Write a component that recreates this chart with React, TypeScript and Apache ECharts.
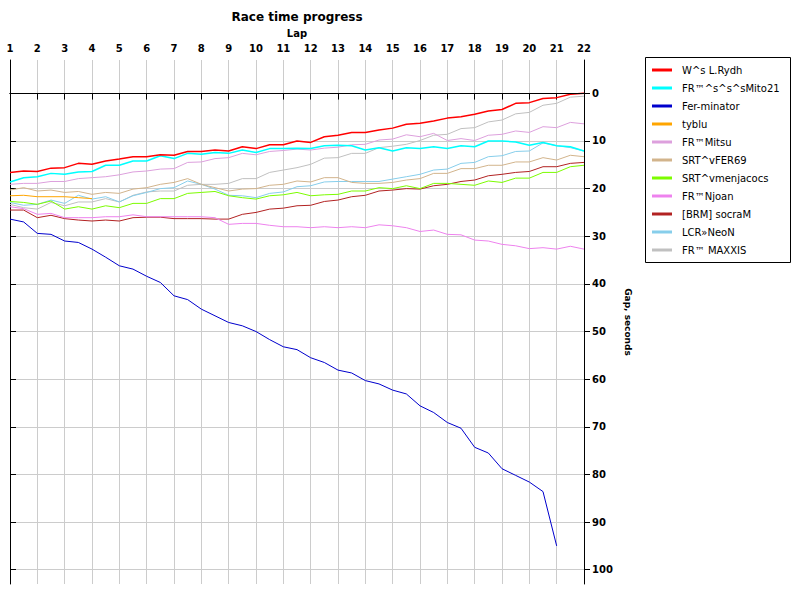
import React, { useEffect, useRef } from "react";
import * as echarts from "echarts";

// Gap to leader in seconds, sampled every half lap starting at lap 1
const NAMES = [
  "W^s L.Rydh",
  "FR™^s^s^sMito21",
  "Fer-minator",
  "tyblu",
  "FR™Mitsu",
  "SRT^vFER69",
  "SRT^vmenjacocs",
  "FR™Njoan",
  "[BRM] socraM",
  "LCR»NeoN",
  "FR™ MAXXIS",
];
const COLORS = ["#ff0000", "#00ffff", "#0000cd", "#ffa500", "#dda0dd", "#d2b48c", "#7cfc00", "#ee82ee", "#b22222", "#87ceeb", "#c0c0c0"];
const WIDTHS = [1.5, 1.5, 1, 1, 1, 1, 1, 1, 1, 1, 1];

const rydh = [16.6, 16.3, 16.4, 15.7, 15.6, 14.7, 14.9, 14.2, 13.8, 13.3, 13.3, 12.9, 13.0, 12.2, 12.2, 11.9, 12.1, 11.2, 11.6, 10.8, 10.8, 10.0, 10.3, 9.1, 8.8, 8.2, 8.2, 7.7, 7.3, 6.5, 6.3, 5.8, 5.2, 4.9, 4.4, 3.7, 3.4, 2.1, 1.95, 1.1, 0.9, 0.2, 0];
const mito = [18.6, 17.7, 17.5, 16.8, 17.0, 16.5, 16.4, 15.1, 15.1, 14.2, 14.2, 13.1, 13.7, 12.6, 12.8, 12.4, 12.6, 11.9, 12.4, 11.6, 11.6, 11.5, 11.6, 11.0, 10.9, 11.0, 11.9, 11.4, 12.1, 11.4, 11.6, 11.2, 11.6, 11.0, 11.2, 10.0, 10.0, 10.2, 10.9, 10.3, 11.0, 11.2, 12.1];
const ferminator = [26.4, 27.0, 29.4, 29.6, 31.0, 31.3, 32.7, 34.4, 36.2, 36.9, 38.4, 39.7, 42.5, 43.3, 45.3, 46.7, 48.1, 48.8, 50.0, 51.7, 53.2, 53.8, 55.5, 56.5, 58.1, 58.7, 60.3, 61.0, 62.3, 63.1, 65.6, 67.0, 69.1, 70.3, 74.3, 75.5, 78.8, 80.2, 81.6, 83.6, 95.0];
const tyblu = [21.5, 21.4, 21.7, 21.7, 21.7, 21.9, 22.1];
const mitsu = [19.1, 18.9, 18.9, 18.5, 18.5, 17.9, 17.7, 17.5, 17.1, 16.5, 16.3, 15.9, 15.8, 14.5, 14.4, 13.7, 13.5, 12.6, 12.9, 12.2, 12.0, 11.7, 11.9, 11.5, 11.3, 10.8, 10.7, 9.8, 9.6, 8.7, 9.1, 8.4, 9.9, 9.5, 9.9, 8.8, 8.6, 7.9, 8.2, 7.0, 7.2, 6.1, 6.4];
const fer69 = [20.3, 19.8, 20.5, 20.3, 20.8, 20.6, 21.2, 20.8, 21.0, 20.1, 19.8, 19.1, 18.7, 17.9, 19.1, 19.8, 20.5, 20.1, 20.0, 19.3, 19.1, 18.4, 18.6, 17.7, 17.7, 18.7, 18.9, 18.9, 18.7, 18.2, 17.9, 16.8, 16.8, 15.8, 15.8, 15.1, 15.1, 14.4, 14.4, 13.5, 14.0, 13.0, 13.3];
const menjacocs = [22.7, 22.9, 23.3, 22.6, 24.3, 23.8, 24.3, 23.6, 24.0, 23.1, 23.1, 22.1, 22.1, 21.0, 20.8, 20.6, 21.5, 21.9, 22.2, 21.5, 21.3, 20.8, 21.5, 21.3, 21.2, 20.5, 20.5, 19.8, 20.0, 19.4, 20.0, 18.9, 18.9, 19.1, 19.3, 18.4, 18.7, 17.8, 17.8, 16.6, 16.6, 15.4, 15.1];
const njoan = [23.8, 24.2, 25.4, 25.2, 26.1, 26.1, 26.1, 25.9, 25.9, 25.5, 25.9, 25.9, 25.9, 25.9, 25.9, 26.1, 27.5, 27.3, 27.3, 27.7, 28.0, 28.0, 28.2, 28.0, 28.2, 28.0, 28.2, 27.6, 27.8, 28.2, 29.0, 28.7, 29.6, 29.7, 30.8, 31.0, 31.7, 32.0, 32.6, 32.4, 32.7, 32.1, 32.7];
const socram = [24.5, 24.5, 26.1, 25.6, 26.3, 26.6, 26.8, 26.6, 26.8, 26.1, 26.0, 26.0, 26.3, 26.3, 26.3, 26.4, 26.4, 25.4, 25.0, 24.3, 24.1, 23.6, 23.5, 22.7, 22.4, 21.7, 21.4, 20.5, 20.3, 20.0, 20.1, 19.4, 19.1, 18.5, 18.2, 17.3, 17.0, 16.6, 16.4, 15.4, 15.4, 14.7, 14.5];
const neon = [22.9, 23.5, 23.3, 22.4, 23.1, 21.4, 22.2, 21.7, 22.8, 21.5, 20.8, 20.0, 19.8, 18.4, 19.1, 20.1, 21.4, 21.5, 21.9, 21.0, 20.7, 19.6, 19.4, 18.6, 18.5, 18.5, 18.5, 18.5, 18.0, 17.5, 17.0, 16.1, 15.9, 14.7, 14.5, 13.3, 13.1, 12.2, 12.1, 10.4, 11.0, 11.4, 12.1];
const maxxis = [23.3, 24.0, 24.3, 22.9, 23.6, 22.8, 22.8, 22.1, 22.8, 21.4, 20.7, 20.5, 20.5, 19.3, 19.1, 19.1, 18.9, 17.9, 17.9, 16.6, 16.1, 15.6, 14.9, 13.6, 13.5, 12.6, 12.6, 11.4, 11.1, 10.7, 9.9, 8.8, 8.6, 7.4, 7.2, 6.0, 5.6, 4.3, 4.0, 2.5, 2.1, 0.8, 0.6];

const SERIES_VALUES = [rydh, mito, ferminator, tyblu, mitsu, fer69, menjacocs, njoan, socram, neon, maxxis];
const Y_TICKS = [0, 10, 20, 30, 40, 50, 60, 70, 80, 90, 100];
const FIRST_LAP = 1;
const LAST_LAP = 22;
const STEP = 0.5;

const FONT = "DejaVu Sans";

export default function App() {
  const ref = useRef<HTMLDivElement>(null);
  useEffect(() => {
    if (!ref.current) return;
    const chart = echarts.init(ref.current, undefined, { renderer: "svg" });
    const series: any[] = SERIES_VALUES.map((vals, k) => ({
      name: NAMES[k],
      type: "line",
      xAxisIndex: 0,
      yAxisIndex: 0,
      showSymbol: false,
      symbol: "none",
      color: COLORS[k],
      lineStyle: { color: COLORS[k], width: WIDTHS[k] },
      data: vals.map((v, i) => [FIRST_LAP + i * STEP, v]),
      z: 3 + (SERIES_VALUES.length - k) * 0.01,
    }));
    series[0].markLine = {
      silent: true,
      symbol: "none",
      label: { show: false },
      lineStyle: { color: "#000", width: 1, type: "solid" },
      data: [{ yAxis: 0 }],
    };
    const axisLineStyle = { color: "#000", width: 1 };
    chart.setOption({
      animation: false,
      textStyle: { fontFamily: FONT },
      graphic: [
        {
          type: "text",
          x: 297,
          y: 17,
          style: {
            text: "Race time progress",
            fontFamily: FONT,
            fontWeight: "bold",
            fontSize: 12,
            fill: "#000",
            align: "center",
            verticalAlign: "middle",
          },
        },
        {
          type: "rect",
          shape: { x: 645.5, y: 57.5, width: 145, height: 205 },
          style: { fill: "#fff", stroke: "#000", lineWidth: 1 },
          z: 0,
        },
      ],
      legend: {
        orient: "vertical",
        left: 652,
        top: 64,
        padding: 0,
        itemWidth: 20,
        itemHeight: 3,
        itemGap: 6,
        icon: "rect",
        z: 5,
        textStyle: { fontSize: 10, lineHeight: 12, color: "#000", fontFamily: FONT, padding: [0, 0, 0, 5] },
        data: NAMES,
      },
      grid: { left: 10, right: 216, top: 60, bottom: 16, containLabel: false },
      xAxis: [
        {
          type: "value",
          position: "top",
          min: FIRST_LAP,
          max: LAST_LAP,
          interval: 1,
          name: "Lap",
          nameLocation: "middle",
          nameGap: 17,
          nameTextStyle: { fontWeight: "bold", fontSize: 10, color: "#000", fontFamily: FONT },
          axisLine: { show: true, lineStyle: axisLineStyle },
          axisTick: { show: true, inside: true, length: 6, lineStyle: axisLineStyle },
          axisLabel: { fontWeight: "bold", fontSize: 10, color: "#000", margin: 7, fontFamily: FONT },
          splitLine: { show: true, lineStyle: { color: "#cccccc", width: 1 } },
        },
        {
          type: "value",
          position: "bottom",
          min: FIRST_LAP,
          max: LAST_LAP,
          interval: 1,
          axisLine: { show: true, lineStyle: axisLineStyle },
          axisTick: { show: true, inside: false, length: 6, lineStyle: axisLineStyle },
          axisLabel: { show: false },
          splitLine: { show: false },
        },
      ],
      yAxis: [
        {
          type: "value",
          position: "right",
          inverse: true,
          min: -7,
          max: 103,
          name: "Gap, seconds",
          nameLocation: "middle",
          nameGap: 34,
          nameRotate: -90,
          nameTextStyle: { fontWeight: "bold", fontSize: 9, color: "#000", fontFamily: FONT },
          axisLine: { show: true, lineStyle: axisLineStyle },
          axisTick: { show: true, inside: false, length: 6, lineStyle: axisLineStyle, customValues: Y_TICKS },
          axisLabel: { fontWeight: "bold", fontSize: 10, color: "#000", margin: 8, fontFamily: FONT, customValues: Y_TICKS },
          splitLine: { show: true, lineStyle: { color: "#cccccc", width: 1 } },
        },
        {
          type: "value",
          position: "left",
          inverse: true,
          min: -7,
          max: 103,
          axisLine: { show: true, lineStyle: axisLineStyle },
          axisTick: { show: true, inside: true, length: 6, lineStyle: axisLineStyle, customValues: Y_TICKS },
          axisLabel: { show: false },
          splitLine: { show: false },
        },
      ],
      series,
    });
    return () => chart.dispose();
  }, []);
  return <div ref={ref} style={{ width: 800, height: 600, position: "absolute", left: 0, top: 0 }} />;
}
